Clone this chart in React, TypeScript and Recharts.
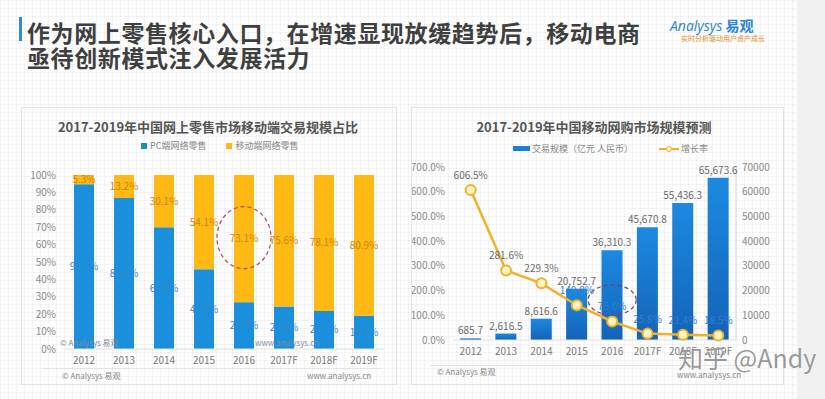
import React from "react";
import {
  BarChart,
  Bar,
  XAxis,
  YAxis,
  LabelList,
  ComposedChart,
  Line,
  ReferenceDot,
} from "recharts";

// ---------- data ----------
const years = ["2012", "2013", "2014", "2015", "2016", "2017F", "2018F", "2019F"];
const pcShare = [94.7, 86.8, 69.9, 45.9, 26.9, 24.4, 21.9, 19.1];
const mobileShare = [5.3, 13.2, 30.1, 54.1, 73.1, 75.6, 78.1, 80.9];
const shareTicks = [0, 10, 20, 30, 40, 50, 60, 70, 80, 90, 100];

const marketSize = [685.7, 2616.5, 8616.6, 20752.7, 36310.3, 45670.8, 55436.3, 65673.6];
const growthRate = [606.5, 281.6, 229.3, 140.8, 75.0, 25.8, 21.4, 18.5];
const rateTicks = [0, 100, 200, 300, 400, 500, 600, 700];
const sizeTicks = [0, 10000, 20000, 30000, 40000, 50000, 60000, 70000];

const leftTitle = "2017-2019年中国网上零售市场移动端交易规模占比";
const rightTitle = "2017-2019年中国移动网购市场规模预测";
const leftLegend = ["PC端网络零售", "移动端网络零售"];
const rightLegend = ["交易规模（亿元 人民币）", "增长率"];
const headline = ["作为网上零售核心入口，在增速显现放缓趋势后，移动电商", "亟待创新模式注入发展活力"];

const shareData = years.map((y, i) => ({ year: y, pc: pcShare[i], mobile: mobileShare[i] }));
const marketData = years.map((y, i) => ({ year: y, size: marketSize[i], rate: growthRate[i] }));

const FONT = '"Noto Sans CJK SC", "Noto Sans", sans-serif';
const PC_BLUE = "#1a90dc";
const YELLOW = "#ffb915";
const GOLD = "#f0b22c";

const fmtThousands = (v: number) =>
  v.toLocaleString("en-US", { minimumFractionDigits: 1, maximumFractionDigits: 1 });

const abs = (l: number, t: number, extra: React.CSSProperties = {}): React.CSSProperties => ({
  position: "absolute",
  left: l,
  top: t,
  ...extra,
});

const RateLabel = (props: any) => {
  const { x, y, value, index } = props;
  const visible = index < 3;
  return (
    <text
      x={x}
      y={y - 11}
      textAnchor="middle"
      fontSize={10}
      fontFamily={FONT}
      fill={visible ? "#6b6b6b" : "#2f7fcf"}
    >
      {Number(value).toFixed(1)}%
    </text>
  );
};

export default function App() {
  return (
    <div
      style={{
        position: "absolute",
        left: 0,
        top: 0,
        width: 825,
        height: 399,
        overflow: "hidden",
        fontFamily: FONT,
        backgroundColor: "#fdfdfd",
        backgroundImage:
          "linear-gradient(rgba(0,0,0,0.035) 1px, transparent 1px), linear-gradient(90deg, rgba(0,0,0,0.035) 1px, transparent 1px)",
        backgroundSize: "8px 8px",
      }}
    >
      {/* right gray strip */}
      <div style={abs(797, 0, { width: 28, height: 399, background: "#f1f1f1" })} />

      {/* headline */}
      <div style={abs(19, 17, { width: 3, height: 24, background: "#2c8fd6" })} />
      <div
        style={abs(27, 20, {
          fontSize: 23,
          lineHeight: "25px",
          fontWeight: 700,
          color: "#3f3f3f",
          whiteSpace: "nowrap",
          letterSpacing: 0.6,
        })}
      >
        <div>{headline[0]}</div>
        <div>{headline[1]}</div>
      </div>

      {/* logo */}
      <div style={abs(670, 17, { whiteSpace: "nowrap", color: "#2a86d0", fontSize: 14, lineHeight: "16px" })}>
        <span style={{ fontFamily: '"Open Sans", sans-serif', fontStyle: "italic" }}>Analysys</span>{" "}
        <span style={{ fontWeight: 700 }}>易观</span>
      </div>
      <div style={abs(681, 34, { whiteSpace: "nowrap", color: "#e0902a", fontSize: 7, lineHeight: "8px" })}>
        实时分析驱动用户资产成长
      </div>

      {/* panels */}
      <div style={abs(21, 107, { width: 376, height: 278, border: "1px solid #e2e2e2", boxSizing: "border-box" })} />
      <div style={abs(411, 107, { width: 373, height: 278, border: "1px solid #e2e2e2", boxSizing: "border-box" })} />
      <div style={abs(42, 368, { width: 340, height: 1, background: "#e4e4e4" })} />
      <div style={abs(430, 365, { width: 330, height: 1, background: "#e4e4e4" })} />

      {/* left titles & legend */}
      <div style={abs(22, 117, { width: 372, textAlign: "center", fontSize: 13, fontWeight: 700, color: "#555", whiteSpace: "nowrap" })}>
        {leftTitle}
      </div>
      <div style={abs(141, 139, { display: "flex", alignItems: "center", fontSize: 9, color: "#888", whiteSpace: "nowrap" })}>
        <span style={{ width: 6, height: 6, background: "#1a8fb8", display: "inline-block", marginRight: 3 }} />
        <span>{leftLegend[0]}</span>
        <span style={{ width: 6, height: 6, background: YELLOW, display: "inline-block", marginLeft: 20, marginRight: 3 }} />
        <span>{leftLegend[1]}</span>
      </div>

      {/* right titles & legend */}
      <div style={abs(412, 117, { width: 364, textAlign: "center", fontSize: 13, fontWeight: 700, color: "#555", whiteSpace: "nowrap" })}>
        {rightTitle}
      </div>
      <div style={abs(513, 142, { display: "flex", alignItems: "center", fontSize: 9, color: "#888", whiteSpace: "nowrap" })}>
        <span style={{ width: 17, height: 5, background: "#1b7fd4", display: "inline-block", marginRight: 2 }} />
        <span>{rightLegend[0]}</span>
        <svg width={20} height={10} style={{ marginLeft: 26, marginRight: 2 }}>
          <line x1={0} y1={5} x2={20} y2={5} stroke={GOLD} strokeWidth={2} />
          <circle cx={10} cy={5} r={2.5} fill="#fff6c8" stroke={GOLD} strokeWidth={1} />
        </svg>
        <span>{rightLegend[1]}</span>
      </div>

      {/* left chart */}
      <div style={abs(22, 107)}>
        <BarChart
          width={376}
          height={278}
          data={shareData}
          margin={{ top: 68, right: 14, bottom: 16, left: 0 }}
        >
          <XAxis
            dataKey="year"
            height={20}
            tickLine={false}
            axisLine={{ stroke: "#e0e0e0" }}
            tick={{ fontSize: 10, fill: "#7a7a7a", fontFamily: FONT }}
            interval={0}
          />
          <YAxis
            width={42}
            domain={[0, 100]}
            ticks={shareTicks}
            interval={0}
            tickFormatter={(v: number) => `${v}%`}
            axisLine={false}
            tickLine={false}
            tick={{ fontSize: 10, fill: "#8a8a8a", fontFamily: FONT }}
          />
          <Bar dataKey="pc" stackId="s" fill={PC_BLUE} barSize={20} isAnimationActive={false}>
            <LabelList
              dataKey="pc"
              position="center"
              formatter={(v: any) => `${Number(v).toFixed(1)}%`}
              style={{ fontSize: 10, fill: "#3587cc", fontFamily: FONT }}
            />
          </Bar>
          <Bar dataKey="mobile" stackId="s" fill={YELLOW} barSize={20} isAnimationActive={false}>
            <LabelList
              dataKey="mobile"
              position="center"
              formatter={(v: any) => `${Number(v).toFixed(1)}%`}
              style={{ fontSize: 10, fill: "#c8870e", fontFamily: FONT }}
            />
          </Bar>
          <ReferenceDot
            x="2016"
            y={64}
            r={28}
            isFront
            shape={(p: any) => (
              <ellipse cx={p.cx} cy={p.cy} rx={27} ry={31} fill="none" stroke="#b0485a" strokeWidth={1.2} strokeDasharray="4 3" />
            )}
          />
        </BarChart>
      </div>

      {/* right chart */}
      <div style={abs(412, 107)}>
        <ComposedChart
          width={372}
          height={278}
          data={marketData}
          margin={{ top: 60, right: 0, bottom: 25, left: 0 }}
        >
          <defs>
            <linearGradient id="barGrad" x1="0" y1="0" x2="0" y2="1">
              <stop offset="0%" stopColor="#1b8ae0" />
              <stop offset="100%" stopColor="#1463b8" />
            </linearGradient>
          </defs>
          <XAxis
            dataKey="year"
            height={20}
            tickLine={false}
            axisLine={{ stroke: "#e0e0e0" }}
            tick={{ fontSize: 10, fill: "#7a7a7a", fontFamily: FONT }}
            interval={0}
          />
          <YAxis
            yAxisId="rate"
            width={41}
            domain={[0, 700]}
            ticks={rateTicks}
            interval={0}
            tickFormatter={(v: number) => `${v.toFixed(1)}%`}
            axisLine={false}
            tickLine={false}
            tick={{ fontSize: 10, fill: "#8a8a8a", fontFamily: FONT }}
          />
          <YAxis
            yAxisId="size"
            orientation="right"
            width={48}
            domain={[0, 70000]}
            ticks={sizeTicks}
            interval={0}
            axisLine={{ stroke: "#d6d6d6" }}
            tickLine={false}
            tickMargin={0}
            tick={{ fontSize: 10, fill: "#8a8a8a", fontFamily: FONT }}
          />
          <Bar yAxisId="size" dataKey="size" fill="url(#barGrad)" barSize={21} isAnimationActive={false}>
            <LabelList
              dataKey="size"
              position="top"
              offset={4}
              formatter={(v: any) => fmtThousands(Number(v))}
              style={{ fontSize: 10, fill: "#6b6b6b", fontFamily: FONT }}
            />
          </Bar>
          <Line
            yAxisId="rate"
            dataKey="rate"
            stroke={GOLD}
            strokeWidth={2.5}
            dot={{ r: 5, fill: "#fff4c4", stroke: GOLD, strokeWidth: 2 }}
            isAnimationActive={false}
          >
            <LabelList dataKey="rate" content={<RateLabel />} />
          </Line>
          <ReferenceDot
            yAxisId="size"
            x="2016"
            y={16200}
            r={20}
            isFront
            shape={(p: any) => (
              <ellipse cx={p.cx} cy={p.cy} rx={24} ry={15} fill="none" stroke="#8a3a5a" strokeWidth={1.2} strokeDasharray="4 3" />
            )}
          />
        </ComposedChart>
      </div>

      {/* footers & small watermarks */}
      <div style={abs(62, 370, { fontSize: 8, color: "#888", whiteSpace: "nowrap" })}>© Analysys 易观</div>
      <div style={abs(307, 370, { fontSize: 8, color: "#888", whiteSpace: "nowrap" })}>www.analysys.cn</div>
      <div style={abs(60, 337, { fontSize: 8, color: "#7e8fa0", whiteSpace: "nowrap" })}>© Analysys 易观</div>
      <div style={abs(255, 337, { fontSize: 8, color: "#7e8fa0", whiteSpace: "nowrap" })}>www.analysys.cn</div>
      <div style={abs(437, 366, { fontSize: 8, color: "#888", whiteSpace: "nowrap" })}>© Analysys 易观</div>
      <div style={abs(677, 369, { fontSize: 8, color: "#888", whiteSpace: "nowrap" })}>www.analysys.cn</div>

      {/* zhihu watermark */}
      <div
        style={abs(678, 342, {
          fontSize: 25,
          lineHeight: "30px",
          color: "rgba(120,120,120,0.75)",
          whiteSpace: "nowrap",
          fontFamily: '"Noto Sans CJK SC", sans-serif',
          textShadow: "0 0 2px #fff",
        })}
      >
        知乎 @Andy
      </div>
    </div>
  );
}
